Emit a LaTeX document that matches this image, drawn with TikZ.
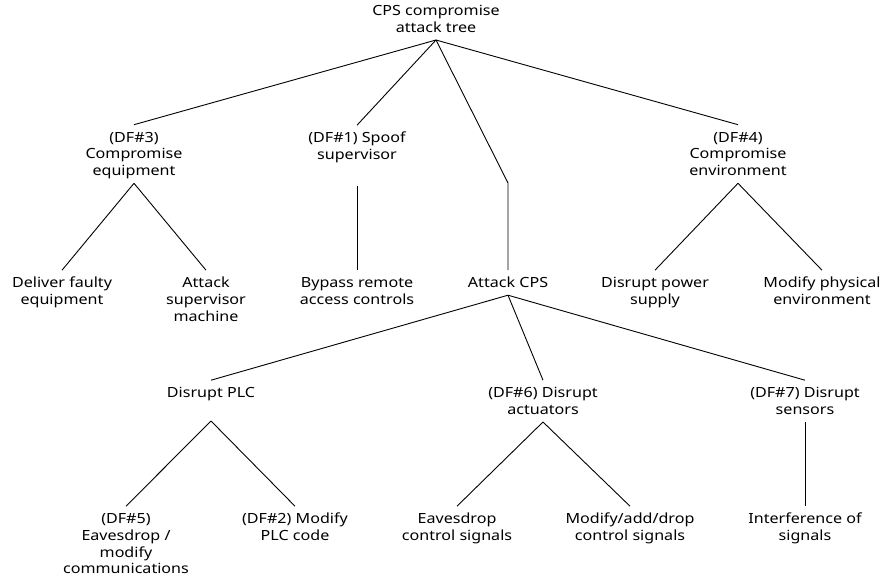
\documentclass[tikz,border=0pt]{standalone}
\usepackage{fontspec}
\setmainfont{Noto Sans}[FakeStretch=1.15]
\newcommand\lbtext[1]{\begin{tabular}{@{}c@{}}\rule{0pt}{17.3pt}#1\rule[-7.7pt]{0pt}{7.7pt}\end{tabular}}
\begin{document}
\begin{tikzpicture}[x=1pt,y=-1pt,
  lbl/.style={inner sep=0pt,outer sep=0pt,anchor=north,yshift=12.8pt,
    font=\fontsize{14}{16.8}\selectfont,text=black},
  edge/.style={draw=black,line width=0.9pt}]
\useasboundingbox (0,0) rectangle (881,581);
% level 0
\node[lbl] (root) at (436,11) {\lbtext{CPS compromise\\attack tree}};
% level 1
\node[lbl] (df3) at (134,137.5) {\lbtext{(DF\#3)\\Compromise\\equipment}};
\node[lbl] (df1) at (357,138) {\lbtext{(DF\#1) Spoof\\supervisor}};
\node[lbl] (df4) at (738,137.5) {\lbtext{(DF\#4)\\Compromise\\environment}};
% level 2
\node[lbl] (deliver) at (62,283) {\lbtext{Deliver faulty\\equipment}};
\node[lbl] (attsup) at (206,283) {\lbtext{Attack\\supervisor\\machine}};
\node[lbl] (bypass) at (357,283) {\lbtext{Bypass remote\\access controls}};
\node[lbl] (acps) at (508,283) {\lbtext{Attack CPS}};
\node[lbl] (power) at (655,283) {\lbtext{Disrupt power\\supply}};
\node[lbl] (modphys) at (822,283) {\lbtext{Modify physical\\environment}};
% level 3
\node[lbl] (dplc) at (211,393) {\lbtext{Disrupt PLC}};
\node[lbl] (df6) at (543,393) {\lbtext{(DF\#6) Disrupt\\actuators}};
\node[lbl] (df7) at (805,393) {\lbtext{(DF\#7) Disrupt\\sensors}};
% level 4
\node[lbl] (df5) at (126,519) {\lbtext{(DF\#5)\\Eavesdrop /\\modify\\communications}};
\node[lbl] (df2) at (295,519) {\lbtext{(DF\#2) Modify\\PLC code}};
\node[lbl] (eaves) at (457,519) {\lbtext{Eavesdrop\\control signals}};
\node[lbl] (modadd) at (630,519) {\lbtext{Modify/add/drop\\control signals}};
\node[lbl] (interf) at (805,519) {\lbtext{Interference of\\signals}};
% helper coordinates
\coordinate (df1b) at (357,186);
\coordinate (acpsbend) at (508,183);
\coordinate (dplcb) at (211,421);
% connectors
\draw[edge] (root.south) -- (df3.north);
\draw[edge] (root.south) -- (df1.north);
\draw[edge] (root.south) -- (acpsbend) -- (acps.north);
\draw[edge] (root.south) -- (df4.north);
\draw[edge] (df3.south) -- (deliver.north);
\draw[edge] (df3.south) -- (attsup.north);
\draw[edge] (df1b) -- (bypass.north);
\draw[edge] (df4.south) -- (power.north);
\draw[edge] (df4.south) -- (modphys.north);
\draw[edge] (acps.south) -- (dplc.north);
\draw[edge] (acps.south) -- (df6.north);
\draw[edge] (acps.south) -- (df7.north);
\draw[edge] (dplcb) -- (df5.north);
\draw[edge] (dplcb) -- (df2.north);
\draw[edge] (df6.south) -- (eaves.north);
\draw[edge] (df6.south) -- (modadd.north);
\draw[edge] (df7.south) -- (interf.north);
\end{tikzpicture}
\end{document}
